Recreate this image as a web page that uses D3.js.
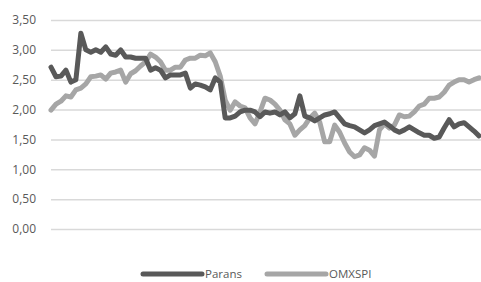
<!DOCTYPE html>
<html>
<head>
<meta charset="utf-8">
<script src="https://cdn.jsdelivr.net/npm/d3@7"></script>
<style>
    body { margin: 0; background: #fff; }
    svg { display: block; }
</style>
</head>
<body>
<script>
// kurser, ett värde per tidpunkt
var parans = [2.71, 2.55, 2.56, 2.66, 2.46, 2.50, 3.28, 3.00, 2.96, 3.00,
    2.96, 3.05, 2.93, 2.91, 3.00, 2.88, 2.88, 2.86, 2.86, 2.86,
    2.66, 2.70, 2.66, 2.53, 2.58, 2.58, 2.58, 2.61, 2.36, 2.43,
    2.41, 2.38, 2.33, 2.53, 2.46, 1.86, 1.86, 1.89, 1.96, 1.99,
    1.99, 1.96, 1.88, 1.96, 1.94, 1.96, 1.91, 1.96, 1.86, 1.93,
    2.23, 1.89, 1.86, 1.81, 1.86, 1.91, 1.93, 1.96, 1.86, 1.76,
    1.73, 1.71, 1.66, 1.61, 1.66, 1.73, 1.76, 1.79, 1.73, 1.66,
    1.62, 1.66, 1.71, 1.66, 1.61, 1.57, 1.57, 1.52, 1.54, 1.69,
    1.83, 1.71, 1.76, 1.78, 1.71, 1.64, 1.56];

var omxspi = [1.99, 2.09, 2.14, 2.23, 2.21, 2.33, 2.36, 2.43, 2.55, 2.56,
    2.58, 2.51, 2.61, 2.63, 2.66, 2.46, 2.60, 2.65, 2.73, 2.80,
    2.93, 2.88, 2.80, 2.66, 2.66, 2.71, 2.71, 2.83, 2.86, 2.86,
    2.91, 2.90, 2.95, 2.80, 2.56, 2.16, 1.99, 2.13, 2.06, 2.03,
    1.86, 1.76, 1.96, 2.19, 2.16, 2.09, 1.99, 1.83, 1.76, 1.57,
    1.66, 1.73, 1.86, 1.94, 1.79, 1.46, 1.46, 1.74, 1.62, 1.44,
    1.29, 1.21, 1.24, 1.36, 1.32, 1.22, 1.66, 1.76, 1.69, 1.74,
    1.91, 1.88, 1.89, 1.96, 2.06, 2.09, 2.19, 2.19, 2.21, 2.29,
    2.41, 2.46, 2.50, 2.50, 2.46, 2.50, 2.53];

var yTicks = [0, 0.5, 1, 1.5, 2, 2.5, 3, 3.5];
var seriesNames = ['Parans', 'OMXSPI'];
var seriesColors = ['#595959', '#a6a6a6'];

function main() {
    var width = 481, height = 282;

    var svg = d3.select("body").append("svg")
        .attr("width", width)
        .attr("height", height);

    var x = d3.scaleLinear()
        .domain([0, parans.length - 1])
        .range([51, 479]);

    var y = d3.scaleLinear()
        .domain([0, 3.5])
        .range([229, 20]);

    // svensk decimal: komma
    var fmt = d3.formatLocale({ decimal: ",", thousands: " ", grouping: [3], currency: ["", " kr"] }).format(".2f");

    var yAxis = d3.axisLeft(y)
        .tickValues(yTicks)
        .tickSize(-(width - 51))
        .tickPadding(15)
        .tickFormat(fmt);

    var gy = svg.append("g")
        .attr("transform", "translate(" + 51 + ",0)")
        .call(yAxis);

    gy.select(".domain").remove();
    gy.selectAll(".tick line")
        .attr("stroke", "#d9d9d9")
        .attr("stroke-width", 1.5);
    gy.selectAll(".tick text")
        .attr("fill", "#595959")
        .style("font-family", "'Open Sans', 'Noto Sans', sans-serif")
        .style("font-size", "12px");

    var line = d3.line()
        .x(function(d, i) { return x(i); })
        .y(function(d) { return y(d); });

    var data = [parans, omxspi];

    // OMXSPI ritas först, Parans ovanpå
    [1, 0].forEach(function(k) {
        svg.append("path")
            .datum(data[k])
            .attr("fill", "none")
            .attr("stroke", seriesColors[k])
            .attr("stroke-width", 5)
            .attr("stroke-linejoin", "round")
            .attr("stroke-linecap", "round")
            .attr("d", line);
    });

    // legend
    var legendX = [143, 267];
    var legend = svg.selectAll("g.legend")
        .data(seriesNames)
        .enter().append("g")
        .attr("class", "legend")
        .attr("transform", function(d, i) { return "translate(" + legendX[i] + "," + 274 + ")"; });

    legend.append("line")
        .attr("x1", 0)
        .attr("x2", 59)
        .attr("stroke", function(d, i) { return seriesColors[i]; })
        .attr("stroke-width", 5)
        .attr("stroke-linecap", "round");

    legend.append("text")
        .attr("x", 62)
        .attr("dy", ".35em")
        .attr("fill", "#595959")
        .style("font-family", "'Open Sans', 'Noto Sans', sans-serif")
        .style("font-size", "11.5px")
        .text(function(d) { return d; });
}
window.onload = main;
</script>
</body>
</html>
